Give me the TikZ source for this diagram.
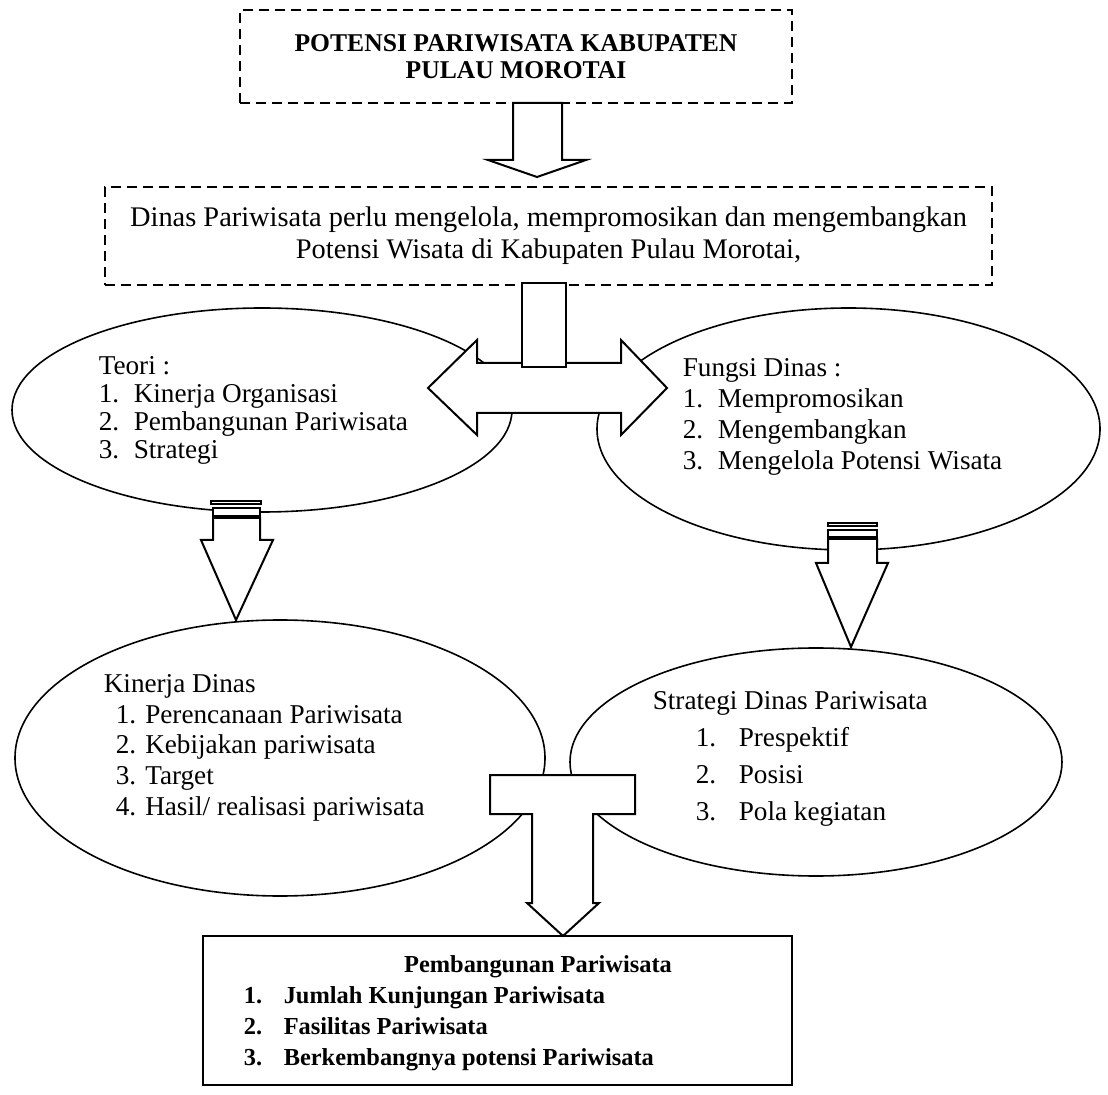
\documentclass[tikz,border=0pt]{standalone}
\usepackage{fontspec}
\setmainfont{Liberation Serif}
\usetikzlibrary{shapes.geometric}

\begin{document}
\begin{tikzpicture}[x=0.5pt,y=-0.5pt,line width=0.8pt]
        \tikzstyle{every node}=[font=\fontsize{13.6}{15}\selectfont,inner sep=0pt]
        \tikzstyle{dashbox}=[draw,line width=1pt,dash pattern=on 5pt off 3pt,align=center]
        \tikzstyle{oval}=[draw,ellipse,inner sep=0pt]
        \tikzstyle{blockarrow}=[draw,fill=white,line width=1pt]
        \tikzstyle{boldtext}=[font=\fontsize{12.2}{14}\selectfont\bfseries]
        \useasboundingbox (0,0) rectangle (1108,1095);
        \begin{scope}
           \node[dashbox,minimum width=276pt,minimum height=46.5pt,font=\fontsize{12.8}{13.5}\selectfont\bfseries] (potensi) at (516,56.5)
               {POTENSI PARIWISATA KABUPATEN\\PULAU MOROTAI};
           \node[dashbox,minimum width=443.5pt,minimum height=49pt,font=\fontsize{14.2}{16}\selectfont] (dinas) at (548.5,236)
               {Dinas Pariwisata perlu mengelola, mempromosikan dan mengembangkan\\Potensi Wisata di Kabupaten Pulau Morotai,};

           \node[oval,minimum width=250pt,minimum height=102pt] (teori) at (262,410) {};
           \node[oval,minimum width=251.5pt,minimum height=121pt] (fungsi) at (848.5,429) {};
           \node[oval,minimum width=265pt,minimum height=138pt] (kinerja) at (280,758) {};
           \node[oval,minimum width=246pt,minimum height=114pt] (strategi) at (816,762) {};
           \draw[line width=1pt] (203,936) rectangle (792,1085);
           \node[minimum width=294.5pt,minimum height=74.5pt] (hasil) at (497.5,1010.5) {};

           \draw[blockarrow] (513,103) -- (513,160) -- (488,160) -- (537,177) -- (586,160) -- (562,160) -- (562,103) -- cycle;

           \draw[blockarrow] (428,388) -- (477,340) -- (477,363) -- (621,363) -- (621,340) -- (667,388)
               -- (621,435) -- (621,413) -- (477,413) -- (477,435) -- cycle;
           \draw[blockarrow] (522,283) rectangle (566,367);

           \draw[blockarrow] (211,501) rectangle (261,504);
           \draw[blockarrow] (213,508) rectangle (260,516);
           \draw[blockarrow] (213,518) -- (213,540) -- (201,540) -- (236,620) -- (273,540) -- (260,540) -- (260,518) -- cycle;

           \draw[blockarrow] (828,523) rectangle (877,526);
           \draw[blockarrow] (828,530) rectangle (877,537);
           \draw[blockarrow] (828,539) -- (828,563) -- (816,563) -- (851,647) -- (888,563) -- (877,563) -- (877,539) -- cycle;

           \draw[blockarrow] (490,775) -- (635,775) -- (635,814) -- (593,814) -- (593,903) -- (599,903) -- (563,936)
               -- (527,903) -- (532,903) -- (532,814) -- (490,814) -- cycle;

           \foreach \t [count=\i from 0] in {Teori :,{\makebox[17.5pt][l]{1.}Kinerja Organisasi},
                 {\makebox[17.5pt][l]{2.}Pembangunan Pariwisata},{\makebox[17.5pt][l]{3.}Strategi}}{
               \node[anchor=base west] (teori\i) at (98,375+28*\i) {\t};
           }
           \foreach \t [count=\i from 0] in {Fungsi Dinas :,{\makebox[17.5pt][l]{1.}Mempromosikan},
                 {\makebox[17.5pt][l]{2.}Mengembangkan},{\makebox[17.5pt][l]{3.}Mengelola Potensi Wisata}}{
               \node[anchor=base west] (fungsi\i) at (682,377+31*\i) {\t};
           }
           \node[anchor=base west] (kinerja0) at (103,693) {Kinerja Dinas};
           \foreach \t [count=\i] in {1. Perencanaan Pariwisata,2. Kebijakan pariwisata,3. Target,
                 4. Hasil/ realisasi pariwisata}{
               \node[anchor=base west] (kinerja\i) at (115,693+30.5*\i) {\t};
           }
           \node[anchor=base west] (strategi0) at (652,710) {Strategi Dinas Pariwisata};
           \foreach \t [count=\i] in {Prespektif,Posisi,Pola kegiatan}{
               \node[anchor=base west] (strategi\i) at (695,710+36.7*\i) {\makebox[21.5pt][l]{\i.}\t};
           }
           \node[anchor=base,boldtext] (hasil0) at (538,972) {Pembangunan Pariwisata};
           \foreach \t [count=\i] in {Jumlah Kunjungan Pariwisata,Fasilitas Pariwisata,Berkembangnya potensi Pariwisata}{
               \node[anchor=base west,boldtext] (hasil\i) at (243,972+31*\i) {\makebox[20pt][l]{\i.}\t};
           }
        \end{scope}
\end{tikzpicture}
\end{document}
